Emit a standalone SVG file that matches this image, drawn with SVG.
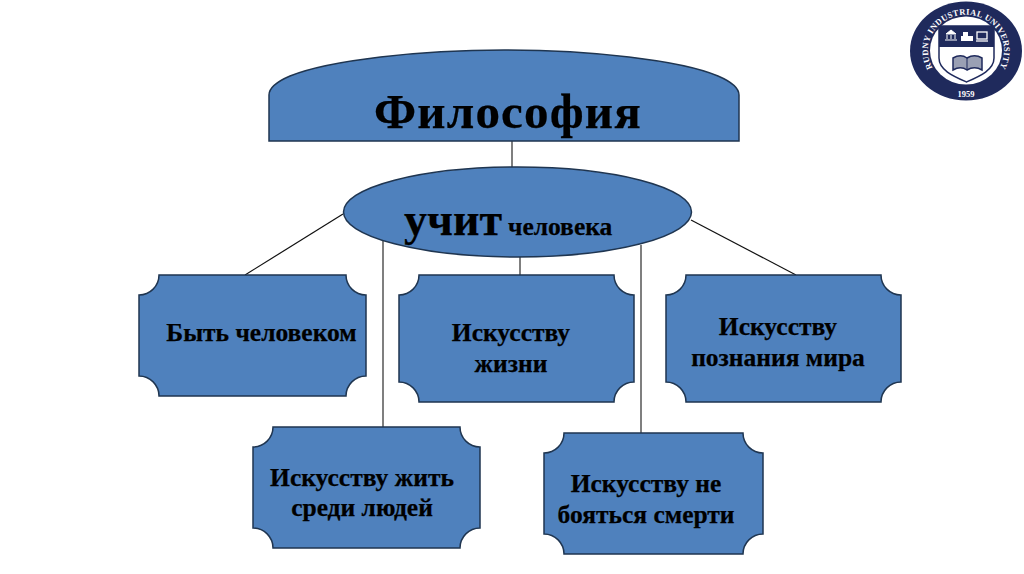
<svg xmlns="http://www.w3.org/2000/svg" width="1024" height="574" viewBox="0 0 1024 574">
<style>
.n{fill:#4f81bd;stroke:#1f3550;stroke-width:1.5}
.c{fill:none;stroke:#111;stroke-width:1.2}
.g{fill:none;stroke:#555;stroke-width:1.5}
text{font-family:"Liberation Serif","Times New Roman",serif;font-weight:bold;fill:#000;text-anchor:middle;stroke:#000;stroke-width:.25}
.t{font-size:25.500px}
.l{fill:#fff;stroke:none;font-size:8.500px;letter-spacing:.4px}
</style>
<defs>
<path id="arcTop" d="M938 75A38 36 0 1 1 994 75"/>
</defs>
<rect width="1024" height="574" fill="#fff"/>
<g id="connectors">
<path class="g" d="M512 141V167"/>
<path class="c" d="M343 214L245 275"/>
<path class="g" d="M383 238V427"/>
<path class="g" d="M520 257V275"/>
<path class="g" d="M641 245V433"/>
<path class="c" d="M691 220L796 275"/>
</g>
<g id="philosophy">
<path class="n" d="M269 141V95C269 88 276 82 290 76C330 60 420 50 504 50C590 50 680 60 718 76C732 82 739 88 739 95V141Z"/>
<text x="508" y="128" font-size="49" letter-spacing="1.200">Философия</text>
</g>
<g id="teaches">
<ellipse class="n" cx="517.500" cy="212" rx="174" ry="45"/>
<text x="404" y="235" style="text-anchor:start"><tspan font-size="46">учит</tspan><tspan font-size="25.500" x="508">человека</tspan></text>
</g>
<g id="be-human">
<path class="n" d="M159 275H346A20 20 0 0 0 366 295V376A20 20 0 0 0 346 396H159A20 20 0 0 0 139 376V295A20 20 0 0 0 159 275Z"/>
<text class="t" x="261.500" y="341">Быть человеком</text>
</g>
<g id="art-of-life">
<path class="n" d="M419 275H614A20 20 0 0 0 634 295V382A20 20 0 0 0 614 402H419A20 20 0 0 0 399 382V295A20 20 0 0 0 419 275Z"/>
<text class="t" x="511" y="341">Искусству</text>
<text class="t" x="511" y="372">жизни</text>
</g>
<g id="art-of-knowing">
<path class="n" d="M686 275H881A20 20 0 0 0 901 295V382A20 20 0 0 0 881 402H686A20 20 0 0 0 666 382V295A20 20 0 0 0 686 275Z"/>
<text class="t" x="778" y="335">Искусству</text>
<text class="t" x="778" y="366">познания мира</text>
</g>
<g id="art-among-people">
<path class="n" d="M273 427H460A20 20 0 0 0 480 447V528A20 20 0 0 0 460 548H273A20 20 0 0 0 253 528V447A20 20 0 0 0 273 427Z"/>
<text class="t" x="362" y="486">Искусству жить</text>
<text class="t" x="362" y="516">среди людей</text>
</g>
<g id="art-no-fear">
<path class="n" d="M564 433H743A20 20 0 0 0 763 453V534A20 20 0 0 0 743 554H564A20 20 0 0 0 544 534V453A20 20 0 0 0 564 433Z"/>
<text class="t" x="646" y="492">Искусству не</text>
<text class="t" x="646" y="523">бояться смерти</text>
</g>
<g id="logo">
<ellipse cx="966" cy="51" rx="56" ry="49.500" fill="#1f2a5c"/>
<ellipse cx="966" cy="50.500" rx="36" ry="34" fill="#fff"/>
<text class="l"><textPath href="#arcTop" startOffset="50%">RUDNY INDUSTRIAL UNIVERSITY</textPath></text>
<text x="966" y="97" font-size="8.500" style="fill:#fff;stroke:none">1959</text>
<path d="M939 26H994V58C994 70 980 76 966.500 82C953 76 939 70 939 58Z" fill="#fff" stroke="#1f2a5c" stroke-width="1.500"/>
<path d="M939 26H994V47H939Z" fill="#1f2a5c"/>
<path d="M953 58C958 55 963 55 967 58C972 55 977 55 982 58V70C977 67 972 67 967 70C963 67 958 67 953 70Z" fill="#9aa0b4" stroke="#1f2a5c" stroke-width="1.500"/>
<path d="M967 58V70" stroke="#1f2a5c"/>
<path d="M945 40H957M946 34L951 30L956 34Z M947 35V39M951 35V39M955 35V39" fill="#fff" stroke="#fff"/>
<path d="M961 41H973V36H968V32H963V36H961Z" fill="#fff"/>
<rect x="977" y="32" width="10" height="7" fill="none" stroke="#fff" stroke-width="1.300"/>
<path d="M976 41H988" stroke="#fff" stroke-width="1.300"/>
</g>
</svg>
